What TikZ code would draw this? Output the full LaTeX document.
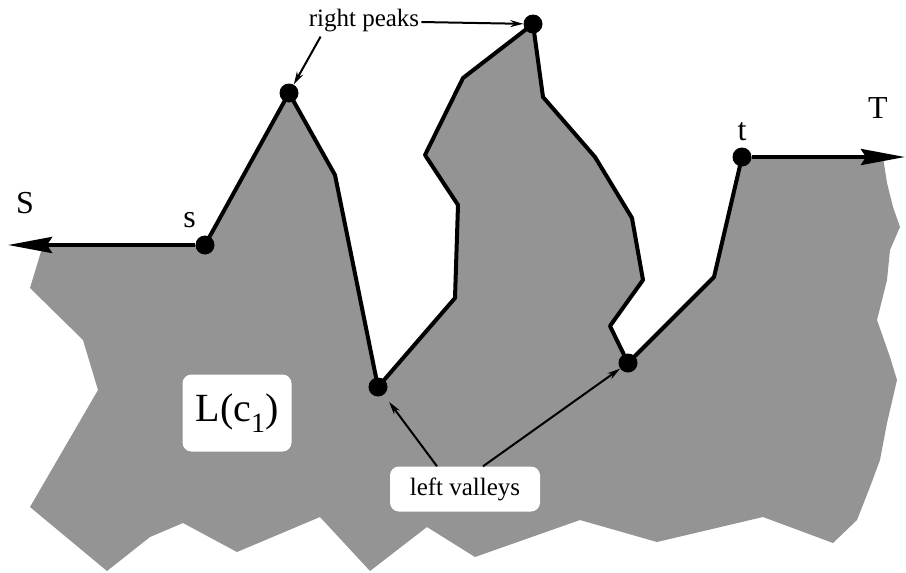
\documentclass[tikz,border=0pt]{standalone}
\usepackage{fontspec}
\setmainfont{Liberation Serif}
\usetikzlibrary{positioning, arrows.meta, calc}

\begin{document}
\begin{tikzpicture}[
  x=1pt, y=-1pt,
  dot/.style={circle, fill=black, inner sep=0pt, minimum size=19pt},
  lbl/.style={font=\rmfamily\fontsize{25}{30}\selectfont, inner sep=2pt},
  endpt/.style={font=\rmfamily\fontsize{32}{38}\selectfont, inner sep=2pt},
  tag/.style={fill=white, rounded corners=9pt, inner sep=0pt, align=center},
  shade/.style={fill=black!42},
  ridge/.style={line width=4pt, line join=round},
  ray/.style={-{Stealth[length=44pt, width=16pt, inset=5pt]}, line width=4pt},
  arr/.style={-{Stealth[length=13pt, width=7pt]}, line width=2pt},
]
  \useasboundingbox (0,0) rectangle (906,573);

  % corners of the ridge
  \coordinate (cs)  at (205,245);
  \coordinate (cp1) at (289,93);
  \coordinate (r1)  at (335,175);
  \coordinate (cv1) at (378,387);
  \coordinate (r2)  at (455,298);
  \coordinate (r3)  at (458,205);
  \coordinate (r4)  at (425,155);
  \coordinate (r5)  at (463,78);
  \coordinate (cp2) at (533,24);
  \coordinate (r6)  at (543,97);
  \coordinate (r7)  at (595,157);
  \coordinate (r8)  at (632,218);
  \coordinate (r9)  at (643,280);
  \coordinate (r10) at (610,326);
  \coordinate (cv2) at (628,363);
  \coordinate (r11) at (714,277);
  \coordinate (ct)  at (742,157);
  \coordinate (send) at (8,245);
  \coordinate (tend) at (905,157);

  % the region L(c1)
  \fill[shade] (43,245) -- (cs) -- (cp1) -- (r1) -- (cv1) -- (r2) -- (r3) -- (r4)
    -- (r5) -- (cp2) -- (r6) -- (r7) -- (r8) -- (r9) -- (r10) -- (cv2) -- (r11)
    -- (ct) -- (883,157) -- (887,183) -- (893,207) -- (900,227) -- (890,250)
    -- (887,280) -- (877,320) -- (890,357) -- (897,380) -- (887,423) -- (880,460)
    -- (870,487) -- (857,520) -- (833,543) -- (763,517) -- (657,542) -- (580,520)
    -- (475,557) -- (427,527) -- (370,571) -- (320,517) -- (237,552) -- (183,523)
    -- (150,537) -- (107,571) -- (30,507) -- (98,390) -- (83,340) -- (30,288) -- cycle;

  \draw[ridge] (cs) -- (cp1) -- (r1) -- (cv1) -- (r2) -- (r3) -- (r4) -- (r5)
    -- (cp2) -- (r6) -- (r7) -- (r8) -- (r9) -- (r10) -- (cv2) -- (r11) -- (ct);

  \node[dot] (s)  at (cs)  {};
  \node[dot] (p1) at (cp1) {};
  \node[dot] (v1) at (cv1) {};
  \node[dot] (p2) at (cp2) {};
  \node[dot] (v2) at (cv2) {};
  \node[dot] (t)  at (ct)  {};

  \draw[ray] (s) -- (send);
  \draw[ray] (t) -- (tend);

  \node[tag, minimum width=109pt, minimum height=77pt] (lc) at (237,413)
    {\fontsize{40}{48}\selectfont L(c\raisebox{-11pt}{\fontsize{28}{30}\selectfont 1})};
  \node[tag, minimum width=150pt, minimum height=45pt, font=\rmfamily\fontsize{25}{30}\selectfont] (lv) at (465,489) {left valleys};
  \node[lbl] (rp) at (364,21) {right peaks};

  \draw[arr] (rp) -- (p2);
  \draw[arr] ($(rp.south west)+(14,2)$) -- (p1);
  \draw[arr, shorten >=9pt] ($(lv.north)+(-28,0)$) -- (v1);
  \draw[arr] ($(lv.north)+(18,0)$) -- (v2);

  \node[endpt] (Slbl) at (25,203) {S};
  \node[endpt] (Tlbl) at (878,108) {T};
  \node[endpt, above left=8pt and 0pt of s] (slbl) {s};
  \node[endpt, above=4pt of t] (tlbl) {t};
\end{tikzpicture}
\end{document}
